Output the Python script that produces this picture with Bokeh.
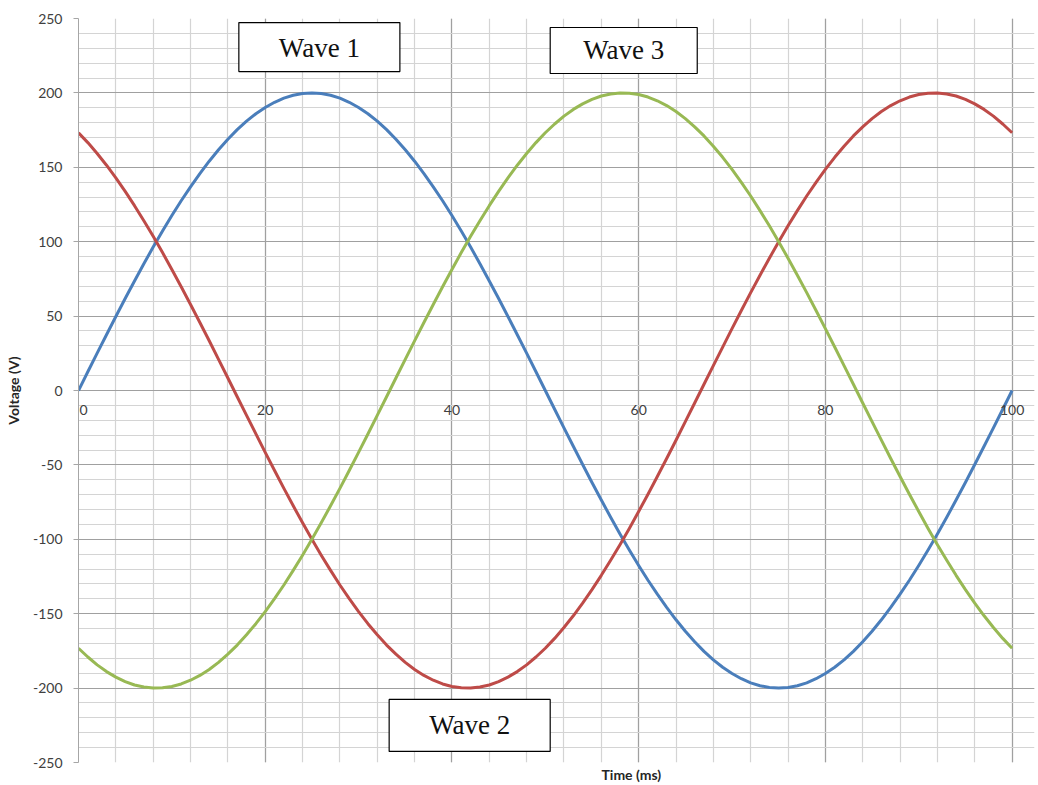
from bokeh.plotting import figure
from bokeh.models import Range1d, SingleIntervalTicker, Label, Title, PrintfTickFormatter
from bokeh.embed import file_html
from bokeh.resources import INLINE

# ---- data (Time in ms, Voltage in V) ----
time_ms = list(range(0, 101))

wave1 = [0, 12.6, 25.1, 37.5, 49.7, 61.8, 73.6, 85.2, 96.4, 107.2, 117.6, 127.5, 136.9, 145.8, 154.1,
         161.8, 168.9, 175.3, 181.0, 186.0, 190.2, 193.7, 196.5, 198.4, 199.6, 200.0, 199.6, 198.4,
         196.5, 193.7, 190.2, 186.0, 181.0, 175.3, 168.9, 161.8, 154.1, 145.8, 136.9, 127.5, 117.6,
         107.2, 96.4, 85.2, 73.6, 61.8, 49.7, 37.5, 25.1, 12.6, 0,
         -12.6, -25.1, -37.5, -49.7, -61.8, -73.6, -85.2, -96.4, -107.2, -117.6, -127.5, -136.9, -145.8,
         -154.1, -161.8, -168.9, -175.3, -181.0, -186.0, -190.2, -193.7, -196.5, -198.4, -199.6, -200.0,
         -199.6, -198.4, -196.5, -193.7, -190.2, -186.0, -181.0, -175.3, -168.9, -161.8, -154.1, -145.8,
         -136.9, -127.5, -117.6, -107.2, -96.4, -85.2, -73.6, -61.8, -49.7, -37.5, -25.1, -12.6, 0]

wave2 = [173.2, 166.6, 159.3, 151.4, 142.9, 133.8, 124.2, 114.1, 103.6, 92.7, 81.3, 69.7, 57.8, 45.7,
         33.4, 20.9, 8.4, -4.2, -16.7, -29.2, -41.6, -53.8, -65.8, -77.5, -88.9, -100.0, -110.7, -120.9,
         -130.7, -139.9, -148.6, -156.7, -164.2, -171.1, -177.2, -182.7, -187.5, -191.5, -194.7, -197.2,
         -198.9, -199.8, -200.0, -199.3, -197.9, -195.6, -192.6, -188.9, -184.4, -179.1, -173.2,
         -166.6, -159.3, -151.4, -142.9, -133.8, -124.2, -114.1, -103.6, -92.7, -81.3, -69.7, -57.8,
         -45.7, -33.4, -20.9, -8.4, 4.2, 16.7, 29.2, 41.6, 53.8, 65.8, 77.5, 88.9, 100.0, 110.7, 120.9,
         130.7, 139.9, 148.6, 156.7, 164.2, 171.1, 177.2, 182.7, 187.5, 191.5, 194.7, 197.2, 198.9,
         199.8, 200.0, 199.3, 197.9, 195.6, 192.6, 188.9, 184.4, 179.1, 173.2]

wave3 = [-173.2, -179.1, -184.4, -188.9, -192.6, -195.6, -197.9, -199.3, -200.0, -199.8, -198.9, -197.2,
         -194.7, -191.5, -187.5, -182.7, -177.2, -171.1, -164.2, -156.7, -148.6, -139.9, -130.7, -120.9,
         -110.7, -100.0, -88.9, -77.5, -65.8, -53.8, -41.6, -29.2, -16.7, -4.2, 8.4, 20.9, 33.4, 45.7,
         57.8, 69.7, 81.3, 92.7, 103.6, 114.1, 124.2, 133.8, 142.9, 151.4, 159.3, 166.6, 173.2,
         179.1, 184.4, 188.9, 192.6, 195.6, 197.9, 199.3, 200.0, 199.8, 198.9, 197.2, 194.7, 191.5,
         187.5, 182.7, 177.2, 171.1, 164.2, 156.7, 148.6, 139.9, 130.7, 120.9, 110.7, 100.0, 88.9, 77.5,
         65.8, 53.8, 41.6, 29.2, 16.7, 4.2, -8.4, -20.9, -33.4, -45.7, -57.8, -69.7, -81.3, -92.7,
         -103.6, -114.1, -124.2, -133.8, -142.9, -151.4, -159.3, -166.6, -173.2]

wave_names = ["Wave 1", "Wave 2", "Wave 3"]
wave_colors = ["#4A7EBB", "#BE4B48", "#98B954"]

x_label = "Time (ms)"
y_label = "Voltage (V)"

# ---- figure ----
p = figure(width=1036, height=783, output_backend="svg", toolbar_location=None,
           x_range=Range1d(0, 102.4), y_range=Range1d(-250, 250),
           min_border_left=78, min_border_right=2, min_border_top=18, min_border_bottom=4)
p.background_fill_color = "white"
p.border_fill_color = "white"
p.outline_line_color = None

tick_font = "Lato"
tick_color = "#404040"

# x axis sits on the zero line
p.xaxis.ticker = SingleIntervalTicker(interval=20, num_minor_ticks=5)
p.xaxis.fixed_location = 0
p.xaxis.axis_line_color = None
p.xaxis.major_tick_out = 0
p.xaxis.major_tick_in = 0
p.xaxis.minor_tick_out = 0
p.xaxis.minor_tick_in = 0
p.xaxis.major_label_standoff = 14
p.xaxis.major_label_text_font = tick_font
p.xaxis.major_label_text_font_size = "14px"
p.xaxis.major_label_text_color = tick_color
p.xaxis.major_label_overrides = {0: ""}

# the "0" tick label at the origin (kept inside the frame so it is not clipped)
p.add_layout(Label(x=0, y=0, x_offset=1, y_offset=-14, text="0", text_align="left",
                   text_baseline="top", text_font=tick_font, text_font_size="14px",
                   text_color=tick_color))

# y axis
p.yaxis.ticker = SingleIntervalTicker(interval=50, num_minor_ticks=5)
p.yaxis.formatter = PrintfTickFormatter(format="%d")
p.yaxis.axis_line_color = "#a6a6a6"
p.yaxis.major_tick_line_color = "#a6a6a6"
p.yaxis.major_tick_out = 5
p.yaxis.major_tick_in = 0
p.yaxis.minor_tick_out = 0
p.yaxis.minor_tick_in = 0
p.yaxis.major_label_standoff = 11
p.yaxis.major_label_text_font = tick_font
p.yaxis.major_label_text_font_size = "14px"
p.yaxis.major_label_text_color = tick_color
p.yaxis.axis_label = y_label
p.yaxis.axis_label_text_font = tick_font
p.yaxis.axis_label_text_font_size = "14px"
p.yaxis.axis_label_text_font_style = "bold"
p.yaxis.axis_label_text_color = "#262626"
p.yaxis.axis_label_standoff = 8

# grids
for g in (p.xgrid, p.ygrid):
    g.grid_line_color = "#a0a0a0"
    g.grid_line_width = 1.2
    g.minor_grid_line_color = "#d4d4d4"
    g.minor_grid_line_width = 1.2

# x axis title, placed below the frame
p.add_layout(Title(text=x_label, align="left", offset=523, text_font=tick_font,
                   text_font_size="14px", text_font_style="bold", text_color="#262626",
                   standoff=2), "below")

# waves
for ys, c in zip([wave1, wave2, wave3], wave_colors):
    p.line(time_ms, ys, line_color=c, line_width=3, line_join="round")

# callout boxes
label_pos = [(25.8, 230.8), (41.9, -225.1), (58.4, 228.5)]
label_pad = [dict(left=40, right=40, top=10, bottom=9),
             dict(left=40, right=40, top=11, bottom=11),
             dict(left=33, right=33, top=8, bottom=8)]
for name, (lx, ly), pad in zip(wave_names, label_pos, label_pad):
    p.add_layout(Label(x=lx, y=ly, text=name, text_align="center", text_baseline="middle",
                       text_font="Liberation Serif", text_font_size="27px", text_color="#111111",
                       background_fill_color="white", border_line_color="black",
                       border_line_width=1.2, padding=pad))

open("out.html", "w").write(file_html(p, INLINE))
